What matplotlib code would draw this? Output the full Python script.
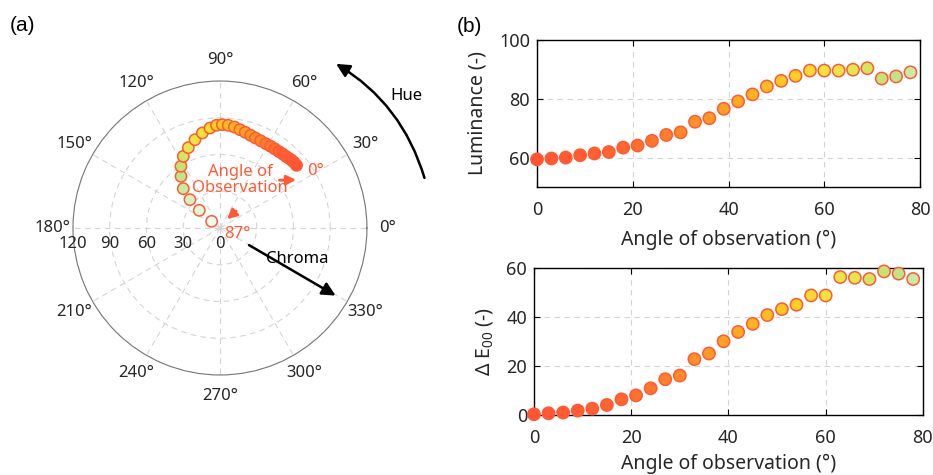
import numpy as np
import matplotlib
matplotlib.use('Agg')
import matplotlib.pyplot as plt
from matplotlib.colors import LinearSegmentedColormap

plt.rcParams['font.family'] = ['Noto Sans', 'DejaVu Sans']
plt.rcParams['mathtext.fontset'] = 'custom'
plt.rcParams['mathtext.rm'] = 'Noto Sans'
plt.rcParams['mathtext.it'] = 'Noto Sans:italic'

# polar panel: hue (deg) and chroma for observation angles 0..87
obs_polar = [0, 3, 6, 9, 12, 15, 18, 21, 24, 27, 30, 33, 36, 39, 42,
             45, 48, 51, 54, 57, 60, 63, 66, 69, 72, 75, 78, 81, 84, 87]
hue = [39.3, 41.6, 43.4, 45.3, 47.4, 49.7, 52.3, 55.2, 58.2, 61.4, 65.0,
       68.4, 71.7, 75.2, 78.5, 81.9, 85.4, 88.7, 91.9, 95.7, 100.5, 105.8,
       111.5, 117.1, 122.3, 127.0, 133.0, 136.6, 139.5, 141.3]
chroma = [80.8, 80.8, 80.5, 80.0, 79.5, 79.2, 78.8, 78.6, 78.5, 78.4, 78.6,
          79.0, 79.7, 80.8, 81.9, 83.3, 84.1, 84.4, 83.9, 82.0, 78.9, 74.9,
          70.5, 65.7, 59.6, 52.8, 43.9, 33.7, 22.2, 8.7]

# right panels
obs = [0, 3, 6, 9, 12, 15, 18, 21, 24, 27, 30, 33, 36, 39, 42,
       45, 48, 51, 54, 57, 60, 63, 66, 69, 72, 75, 78]
luminance = [59.4, 59.7, 60.0, 60.8, 61.4, 61.9, 63.4, 64.1, 65.7, 67.7,
             68.6, 72.2, 73.4, 76.6, 79.1, 81.5, 84.2, 86.1, 87.8, 89.6,
             89.6, 89.6, 89.9, 90.4, 86.9, 87.6, 89.0]
delta_e = [0.3, 0.7, 1.0, 1.8, 2.6, 4.1, 6.4, 8.0, 10.9, 14.6, 16.1, 22.8,
           25.1, 30.1, 33.9, 37.2, 40.8, 43.2, 45.0, 48.8, 48.8, 56.3, 56.0,
           55.5, 58.6, 57.7, 55.5]

theta_ticks = [0, 30, 60, 90, 120, 150, 180, 210, 240, 270, 300, 330]
r_ticks = [0, 30, 60, 90, 120]

cmap = LinearSegmentedColormap.from_list('obs', [
    (0.0, '#FF5533'), (0.2, '#FF6530'), (0.35, '#FF8A2A'), (0.5, '#FFAE20'),
    (0.62, '#FFCF25'), (0.68, '#F9E23A'), (0.77, '#E0E652'), (0.85, '#BCE07E'),
    (0.9, '#C8EAA2'), (0.95, '#DDF3CD'), (1.0, '#F0FAF0')])
edge = '#FF5A36'
txt = '#262626'
grid_kw = dict(color='#d4d4d4', ls=(0, (5, 4)), lw=0.8)

fig = plt.figure(figsize=(9.33, 4.75), dpi=100)

# ---- (a) polar
ax = fig.add_axes([0.0782, 0.2105, 0.3151, 0.619], projection='polar')
cols = cmap(np.array(obs_polar) / 87.0)
th = np.deg2rad(hue)
ax.scatter(th[::-1], np.array(chroma)[::-1], s=66, c=cols[::-1], edgecolors=edge,
           linewidths=1.1, zorder=3, clip_on=False)
ax.set_ylim(0, 120)
ax.set_yticks([30, 60, 90, 120])
ax.set_yticklabels([])
ax.set_thetagrids(theta_ticks, ['' for t in theta_ticks])
ax.grid(True, **grid_kw)
ax.spines['polar'].set_color('#777777')
ax.spines['polar'].set_linewidth(0.8)
for t in theta_ticks:
    ax.text(np.deg2rad(t), 137, f'{t}°', ha='center', va='center', fontsize=12,
            color=txt, clip_on=False)
for r in r_ticks:
    ax.annotate(str(r), xy=(np.pi, r), xytext=(0, -6), textcoords='offset points',
                ha='center', va='top', fontsize=12, color=txt, annotation_clip=False)

# orange annotations
orange = '#FF5A36'
ax.text(np.deg2rad(67.4), 42.4, 'Angle of\nObservation', color=orange, fontsize=12,
        ha='center', va='center', linespacing=1.05, zorder=4)
ax.annotate('', xy=(np.deg2rad(31.4), 75.5), xytext=(np.deg2rad(40.1), 60.5),
            arrowprops=dict(arrowstyle='-|>', color=orange, lw=2, mutation_scale=14))
ax.text(np.deg2rad(30.7), 91.1, '0°', color=orange, fontsize=12, ha='center', va='center')
ax.annotate('', xy=(np.deg2rad(54.5), 7.0), xytext=(np.deg2rad(45.6), 21.4),
            arrowprops=dict(arrowstyle='-|>', color=orange, lw=2, mutation_scale=14))
ax.text(np.deg2rad(-19.4), 14.7, '87°', color=orange, fontsize=12, ha='center', va='center')

# black arrows: hue and chroma
ax.annotate('', xy=(np.deg2rad(55.5), 164), xytext=(np.deg2rad(13), 172),
            arrowprops=dict(arrowstyle='-|>', color='k', lw=1.8, mutation_scale=20,
                            connectionstyle='arc3,rad=0.2'), annotation_clip=False)
ax.text(np.deg2rad(35.3), 187, 'Hue', fontsize=12, ha='center', va='center', color='k')
ax.annotate('', xy=(np.deg2rad(-30.3), 111.6), xytext=(np.deg2rad(-30.5), 25.3),
            arrowprops=dict(arrowstyle='-|>', color='k', lw=1.8, mutation_scale=20),
            annotation_clip=False)
ax.text(np.deg2rad(-21.9), 67.8, 'Chroma', fontsize=12, ha='center', va='center', color='k')

# ---- (b) luminance
col_r = cmap(np.array(obs) / 87.0)
ax1 = fig.add_axes([0.5756, 0.6063, 0.4105, 0.3095])
ax1.scatter(obs, luminance, s=78, c=col_r, edgecolors=edge, linewidths=1.1,
            zorder=3, clip_on=False)
ax1.set_xlim(0, 80)
ax1.set_ylim(50, 100)
ax1.set_yticks([60, 80, 100])
ax1.set_xticks([0, 20, 40, 60, 80])
ax1.set_ylabel('Luminance (-)', fontsize=14, color=txt, labelpad=8)
ax1.set_xlabel('Angle of observation (°)', fontsize=14, color=txt, labelpad=8)

# ---- (b) delta E
ax2 = fig.add_axes([0.5723, 0.1263, 0.4169, 0.3095])
ax2.scatter(obs, delta_e, s=78, c=col_r, edgecolors=edge, linewidths=1.1,
            zorder=3, clip_on=False)
ax2.set_xlim(0, 80)
ax2.set_ylim(0, 60)
ax2.set_yticks([0, 20, 40, 60])
ax2.set_xticks([0, 20, 40, 60, 80])
ax2.set_ylabel(r'$\Delta$ E$_{00}$ (-)', fontsize=14, color=txt, labelpad=8)
ax2.set_xlabel('Angle of observation (°)', fontsize=14, color=txt, labelpad=5)

for a in (ax1, ax2):
    a.grid(True, **grid_kw)
    a.set_axisbelow(True)
    a.tick_params(direction='in', top=True, right=True, labelsize=13,
                  labelcolor=txt, length=4, width=0.8, pad=5)
    a.tick_params(axis='x', pad=10)
    for s in a.spines.values():
        s.set_linewidth(1.0)

fig.text(0.0107, 0.947, '(a)', fontsize=15, family='Liberation Sans', va='center')
fig.text(0.49, 0.945, '(b)', fontsize=15, family='Liberation Sans', va='center')

fig.savefig('out.png', dpi=100)
